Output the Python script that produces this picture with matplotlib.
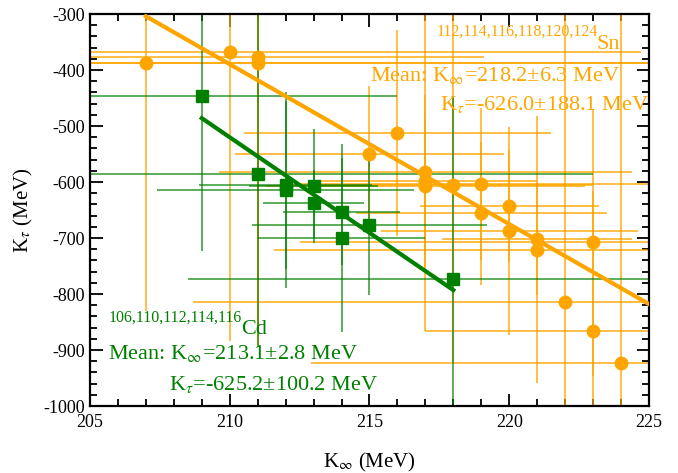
import matplotlib
matplotlib.use('Agg')
import matplotlib.pyplot as plt
from matplotlib.ticker import MultipleLocator

plt.rcParams['font.family'] = ['Liberation Serif', 'DejaVu Serif']
plt.rcParams['mathtext.fontset'] = 'stix'
plt.rcParams['axes.unicode_minus'] = False

ORANGE = '#FFA500'
GREEN = '#008000'

# Sn isotopes: K_inf, K_tau and their errors (MeV)
sn_k = [207, 210, 211, 211, 215, 216, 217, 217, 217, 218,
        219, 219, 220, 220, 221, 221, 222, 223, 223, 224]
sn_kt = [-388, -367, -377, -387, -550, -513, -582, -598, -608, -605,
         -604, -656, -643, -687, -702, -721, -815, -708, -866, -924]
sn_dk = [19, 14.7, 8.1, 15, 4.8, 5.5, 7.4, 4.0, 5.7, 5.0,
         6.7, 4.5, 3.2, 4.6, 3.4, 9.4, 13.3, 10.5, 6.0, 11.1]
sn_dkt = [443, 517, 517, 480, 122, 184, 284, 153, 120, 320,
          136, 128, 100, 186, 100, 238, 560, 238, 250, 630]

# Cd isotopes
cd_k = [209, 211, 212, 212, 213, 213, 214, 214, 215, 218]
cd_kt = [-446, -585, -605, -614, -607, -638, -653, -700, -677, -774]
cd_dk = [7, 12, 3.1, 4.6, 2.3, 1.8, 2.1, 3, 4.2, 9.5]
cd_dkt = [277, 309, 150, 175, 102, 60, 95, 168, 125, 328]

# linear fits
sn_fit_k = [207, 225]
sn_fit_kt = [-304, -818]
cd_fit_k = [209, 218]
cd_fit_kt = [-486, -793]

fig = plt.figure(figsize=(6.78, 4.73), dpi=100)
ax = fig.add_axes([0.1327, 0.1416, 0.8245, 0.8288])

ax.errorbar(sn_k, sn_kt, xerr=sn_dk, yerr=sn_dkt, fmt='none',
            ecolor=ORANGE, elinewidth=1.2, alpha=0.85, zorder=2)
ax.errorbar(cd_k, cd_kt, xerr=cd_dk, yerr=cd_dkt, fmt='none',
            ecolor=GREEN, elinewidth=1.2, alpha=0.75, zorder=2)

ax.plot(sn_fit_k, sn_fit_kt, color=ORANGE, lw=3, zorder=3)
ax.plot(cd_fit_k, cd_fit_kt, color=GREEN, lw=3, zorder=3)

ax.plot(sn_k, sn_kt, 'o', color=ORANGE, ms=9, zorder=4)
ax.plot(cd_k, cd_kt, 's', color=GREEN, ms=8, zorder=4)

ax.set_xlim(205, 225)
ax.set_ylim(-1000, -300)
ax.xaxis.set_major_locator(MultipleLocator(5))
ax.xaxis.set_minor_locator(MultipleLocator(1))
ax.yaxis.set_major_locator(MultipleLocator(100))
ax.yaxis.set_minor_locator(MultipleLocator(20))
ax.tick_params(which='both', direction='in', top=True, right=True,
               labelsize=13, width=1.3)
ax.tick_params(which='major', length=9)
ax.tick_params(which='minor', length=5)
ax.tick_params(axis='x', pad=6)
for s in ax.spines.values():
    s.set_linewidth(1.6)

ax.set_xlabel(r'K$_{\infty}$ (MeV)', fontsize=15, labelpad=14)
ax.set_ylabel(r'K$_{\tau}$ (MeV)', fontsize=15, labelpad=6)

# annotations
ax.text(0.621, 0.946, '112,114,116,118,120,124', transform=ax.transAxes,
        color=ORANGE, fontsize=11.5, va='baseline')
ax.text(0.948, 0.911, 'Sn', transform=ax.transAxes, color=ORANGE,
        fontsize=16, ha='right', va='baseline')
ax.text(0.948, 0.829, r'Mean: K$_{\infty}$=218.2±6.3 MeV', transform=ax.transAxes,
        color=ORANGE, fontsize=16, ha='right', va='baseline')
ax.text(1.0, 0.755, r'K$_{\tau}$=-626.0±188.1 MeV', transform=ax.transAxes,
        color=ORANGE, fontsize=16, ha='right', va='baseline')

ax.text(0.033, 0.215, '106,110,112,114,116', transform=ax.transAxes,
        color=GREEN, fontsize=11.5, va='baseline')
ax.text(0.270, 0.184, 'Cd', transform=ax.transAxes, color=GREEN,
        fontsize=16, va='baseline')
ax.text(0.033, 0.12, r'Mean: K$_{\infty}$=213.1±2.8 MeV', transform=ax.transAxes,
        color=GREEN, fontsize=16, va='baseline')
ax.text(0.141, 0.041, r'K$_{\tau}$=-625.2±100.2 MeV', transform=ax.transAxes,
        color=GREEN, fontsize=16, va='baseline')

fig.savefig('out.png', dpi=100)
